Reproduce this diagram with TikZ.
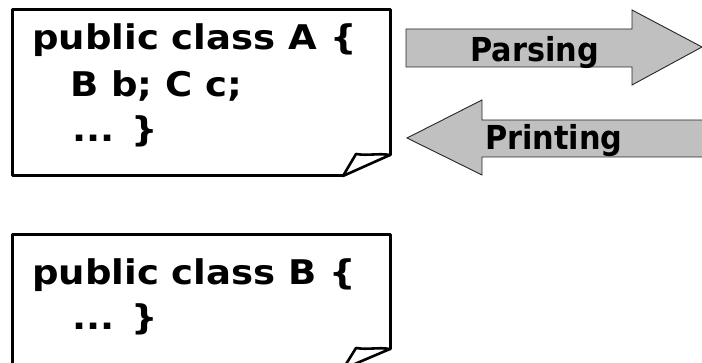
\documentclass[tikz,border=0pt]{standalone}
\usepackage{fontspec}
\setmainfont{DejaVu Sans}
\tikzset{
  boxline/.style={line width=3pt, line join=round, line cap=round},
  foldline/.style={line width=2.6pt, line join=round, line cap=round},
  blockarrow/.style={fill=arrowgray, draw=black!85, line width=0.9pt, line join=miter},
  codetext/.style={anchor=base west, inner sep=0pt, font=\fontsize{34}{40}\selectfont\bfseries},
  arrowtext/.style={anchor=base west, inner sep=0pt, font=\fontsize{33}{40}\selectfont\bfseries}
}
\definecolor{arrowgray}{RGB}{192,192,192}
\begin{document}
\begin{tikzpicture}[x=1pt,y=1pt]
\useasboundingbox (0,0) rectangle (702,363);
\clip (0,0) rectangle (702,363);
% Box A
\draw[boxline] (390,208) -- (390,353) -- (12,353) -- (12,187) -- (343,187);
\draw[foldline] (343,187) -- (356,209) .. controls (368,207) and (378,210) .. (390,208) -- cycle;
\node[codetext] (a1) at (32,313) {\scalebox{1.09}[1]{public class A \{}};
\node[codetext] (a2) at (70,266) {\scalebox{1.09}[1]{B b; C c;}};
\node[codetext] (a3) at (72,221) {\scalebox{1.09}[1]{... \}}};
% Box B
\draw[boxline] (390,14) -- (390,128) -- (12,128) -- (12,-6) -- (343,-6);
\draw[foldline] (343,-6) -- (356,15) .. controls (368,13) and (378,16) .. (390,14) -- cycle;
\node[codetext] (b1) at (32,78) {\scalebox{1.09}[1]{public class B \{}};
\node[codetext] (b2) at (72,33) {\scalebox{1.09}[1]{... \}}};
% Parsing arrow
\draw[blockarrow] (406,334) -- (632,334) -- (632,353) -- (702,316) -- (632,278) -- (632,296) -- (406,296) -- cycle;
\node[arrowtext] (parsing) at (470,301) {\scalebox{0.92}[1]{Parsing}};
% Printing arrow
\draw[blockarrow] (710,243) -- (482,243) -- (482,263) -- (407,225) -- (482,188) -- (482,206) -- (710,206);
\node[arrowtext] (printing) at (485,213) {\scalebox{0.92}[1]{Printing}};
\end{tikzpicture}
\end{document}
